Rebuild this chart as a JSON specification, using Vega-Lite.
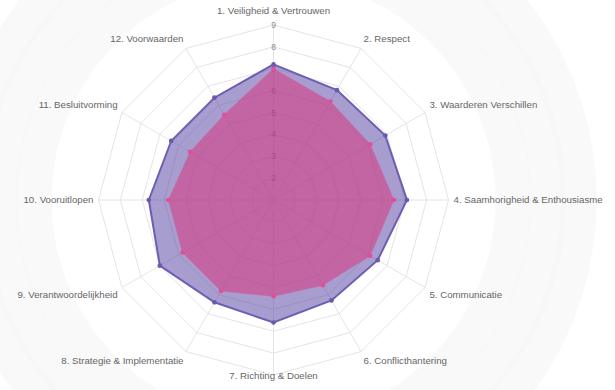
{
  "$schema": "https://vega.github.io/schema/vega-lite/v6.json",
  "width": 615,
  "height": 390,
  "autosize": "none",
  "padding": 0,
  "background": "white",
  "config": {"view": {"stroke": null}, "font": "Liberation Sans"},
  "datasets": {
    "scores": [
      {"axis": 1, "series": "A", "value": 7.2},
      {"axis": 2, "series": "A", "value": 6.8},
      {"axis": 3, "series": "A", "value": 6.9},
      {"axis": 4, "series": "A", "value": 7.1},
      {"axis": 5, "series": "A", "value": 6.5},
      {"axis": 6, "series": "A", "value": 6.3},
      {"axis": 7, "series": "A", "value": 6.6},
      {"axis": 8, "series": "A", "value": 6.4},
      {"axis": 9, "series": "A", "value": 7.0},
      {"axis": 10, "series": "A", "value": 6.7},
      {"axis": 11, "series": "A", "value": 6.4},
      {"axis": 12, "series": "A", "value": 6.4},
      {"axis": 1, "series": "B", "value": 7.0},
      {"axis": 2, "series": "B", "value": 6.2},
      {"axis": 3, "series": "B", "value": 6.1},
      {"axis": 4, "series": "B", "value": 6.5},
      {"axis": 5, "series": "B", "value": 6.1},
      {"axis": 6, "series": "B", "value": 5.5},
      {"axis": 7, "series": "B", "value": 5.4},
      {"axis": 8, "series": "B", "value": 5.8},
      {"axis": 9, "series": "B", "value": 5.8},
      {"axis": 10, "series": "B", "value": 5.8},
      {"axis": 11, "series": "B", "value": 5.4},
      {"axis": 12, "series": "B", "value": 5.5}
    ],
    "axes": [
      {"axis": 1, "label": "1. Veiligheid & Vertrouwen"},
      {"axis": 2, "label": "2. Respect"},
      {"axis": 3, "label": "3. Waarderen Verschillen"},
      {"axis": 4, "label": "4. Saamhorigheid & Enthousiasme"},
      {"axis": 5, "label": "5. Communicatie"},
      {"axis": 6, "label": "6. Conflicthantering"},
      {"axis": 7, "label": "7. Richting & Doelen"},
      {"axis": 8, "label": "8. Strategie & Implementatie"},
      {"axis": 9, "label": "9. Verantwoordelijkheid"},
      {"axis": 10, "label": "10. Vooruitlopen"},
      {"axis": 11, "label": "11. Besluitvorming"},
      {"axis": 12, "label": "12. Voorwaarden"}
    ],
    "levels": [
      {"level": 2, "axes": [1,2,3,4,5,6,7,8,9,10,11,12]},
      {"level": 3, "axes": [1,2,3,4,5,6,7,8,9,10,11,12]},
      {"level": 4, "axes": [1,2,3,4,5,6,7,8,9,10,11,12]},
      {"level": 5, "axes": [1,2,3,4,5,6,7,8,9,10,11,12]},
      {"level": 6, "axes": [1,2,3,4,5,6,7,8,9,10,11,12]},
      {"level": 7, "axes": [1,2,3,4,5,6,7,8,9,10,11,12]},
      {"level": 8, "axes": [1,2,3,4,5,6,7,8,9,10,11,12]},
      {"level": 9, "axes": [1,2,3,4,5,6,7,8,9,10,11,12]}
    ],
    "ticks": [
      {"tick": 2}, {"tick": 3}, {"tick": 4}, {"tick": 5},
      {"tick": 6}, {"tick": 7}, {"tick": 8}, {"tick": 9}
    ],
    "rings": [
      {"ring": "a"}, {"ring": "b"}, {"ring": "c"}
    ]
  },
  "encoding": {
    "x": {"field": "x", "type": "quantitative", "axis": null, "scale": {"domain": [-1.5629, 1.9514], "nice": false, "zero": false}},
    "y": {"field": "y", "type": "quantitative", "axis": null, "scale": {"domain": [-1.0857, 1.1429], "nice": false, "zero": false}}
  },
  "layer": [
    {
      "data": {"name": "rings"},
      "transform": [
        {"calculate": "0", "as": "x"},
        {"calculate": "0", "as": "y"}
      ],
      "mark": {"type": "point", "shape": "circle", "filled": false, "stroke": "#f7f7f7", "strokeWidth": 36, "strokeOpacity": 1},
      "encoding": {
        "size": {"field": "ring", "type": "nominal", "legend": null, "scale": {"domain": ["a", "b", "c"], "range": [230400, 372100, 547600]}}
      }
    },
    {
      "data": {"name": "levels"},
      "transform": [
        {"flatten": ["axes"], "as": ["axis"]},
        {"calculate": "(datum.axis - 1) * PI / 6", "as": "theta"},
        {"calculate": "(datum.level - 1) / 8", "as": "r"},
        {"calculate": "datum.r * sin(datum.theta)", "as": "x"},
        {"calculate": "datum.r * cos(datum.theta)", "as": "y"}
      ],
      "mark": {"type": "line", "interpolate": "linear-closed", "stroke": "#e4e4e4", "strokeWidth": 1},
      "encoding": {
        "detail": {"field": "level", "type": "nominal"},
        "order": {"field": "axis", "type": "quantitative"}
      }
    },
    {
      "data": {"name": "axes"},
      "transform": [
        {"calculate": "(datum.axis - 1) * PI / 6", "as": "theta"},
        {"calculate": "0", "as": "x"},
        {"calculate": "0", "as": "y"},
        {"calculate": "sin(datum.theta)", "as": "x2"},
        {"calculate": "cos(datum.theta)", "as": "y2"}
      ],
      "mark": {"type": "rule", "stroke": "#e4e4e4", "strokeWidth": 1},
      "encoding": {
        "x2": {"field": "x2"},
        "y2": {"field": "y2"}
      }
    },
    {
      "data": {"name": "ticks"},
      "transform": [
        {"calculate": "0", "as": "x"},
        {"calculate": "(datum.tick - 1) / 8", "as": "y"}
      ],
      "mark": {"type": "text", "fontSize": 8.5, "fill": "#8a8a8a", "align": "center", "baseline": "middle"},
      "encoding": {
        "text": {"field": "tick", "type": "quantitative"}
      }
    },
    {
      "data": {"name": "scores"},
      "transform": [
        {"filter": "datum.series == 'A'"},
        {"calculate": "(datum.axis - 1) * PI / 6", "as": "theta"},
        {"calculate": "(datum.value - 1) / 8", "as": "r"},
        {"calculate": "datum.r * sin(datum.theta)", "as": "x"},
        {"calculate": "datum.r * cos(datum.theta)", "as": "y"}
      ],
      "mark": {"type": "line", "interpolate": "linear-closed", "fill": "#503ca0", "fillOpacity": 0.5, "stroke": "#6e5eb2", "strokeWidth": 2},
      "encoding": {"order": {"field": "axis", "type": "quantitative"}}
    },
    {
      "data": {"name": "scores"},
      "transform": [
        {"filter": "datum.series == 'B'"},
        {"calculate": "(datum.axis - 1) * PI / 6", "as": "theta"},
        {"calculate": "(datum.value - 1) / 8", "as": "r"},
        {"calculate": "datum.r * sin(datum.theta)", "as": "x"},
        {"calculate": "datum.r * cos(datum.theta)", "as": "y"}
      ],
      "mark": {"type": "line", "interpolate": "linear-closed", "fill": "#e12d78", "fillOpacity": 0.5, "stroke": "#c9609f", "strokeWidth": 1, "strokeOpacity": 0.6},
      "encoding": {"order": {"field": "axis", "type": "quantitative"}}
    },
    {
      "data": {"name": "scores"},
      "transform": [
        {"calculate": "(datum.axis - 1) * PI / 6", "as": "theta"},
        {"calculate": "(datum.value - 1) / 8", "as": "r"},
        {"calculate": "datum.r * sin(datum.theta)", "as": "x"},
        {"calculate": "datum.r * cos(datum.theta)", "as": "y"}
      ],
      "mark": {"type": "point", "shape": "circle", "filled": true, "size": 22, "opacity": 1},
      "encoding": {
        "color": {"field": "series", "type": "nominal", "legend": null, "scale": {"domain": ["A", "B"], "range": ["#6a5aae", "#e0509a"]}}
      }
    },
    {
      "data": {"name": "axes"},
      "transform": [
        {"filter": "datum.axis == 1"},
        {"calculate": "(datum.axis - 1) * PI / 6", "as": "theta"},
        {"calculate": "1.0286 * sin(datum.theta)", "as": "x"},
        {"calculate": "1.0286 * cos(datum.theta)", "as": "y"}
      ],
      "mark": {"type": "text", "fontSize": 9.7, "color": "#666666", "align": "center", "baseline": "bottom", "dy": -4},
      "encoding": {"text": {"field": "label"}}
    },
    {
      "data": {"name": "axes"},
      "transform": [
        {"filter": "datum.axis == 2 || datum.axis == 3"},
        {"calculate": "(datum.axis - 1) * PI / 6", "as": "theta"},
        {"calculate": "1.0286 * sin(datum.theta)", "as": "x"},
        {"calculate": "1.0286 * cos(datum.theta)", "as": "y"}
      ],
      "mark": {"type": "text", "fontSize": 9.7, "color": "#666666", "align": "left", "baseline": "bottom"},
      "encoding": {"text": {"field": "label"}}
    },
    {
      "data": {"name": "axes"},
      "transform": [
        {"filter": "datum.axis == 4"},
        {"calculate": "(datum.axis - 1) * PI / 6", "as": "theta"},
        {"calculate": "1.0286 * sin(datum.theta)", "as": "x"},
        {"calculate": "1.0286 * cos(datum.theta)", "as": "y"}
      ],
      "mark": {"type": "text", "fontSize": 9.7, "color": "#666666", "align": "left", "baseline": "middle"},
      "encoding": {"text": {"field": "label"}}
    },
    {
      "data": {"name": "axes"},
      "transform": [
        {"filter": "datum.axis == 5 || datum.axis == 6"},
        {"calculate": "(datum.axis - 1) * PI / 6", "as": "theta"},
        {"calculate": "1.0286 * sin(datum.theta)", "as": "x"},
        {"calculate": "1.0286 * cos(datum.theta)", "as": "y"}
      ],
      "mark": {"type": "text", "fontSize": 9.7, "color": "#666666", "align": "left", "baseline": "top"},
      "encoding": {"text": {"field": "label"}}
    },
    {
      "data": {"name": "axes"},
      "transform": [
        {"filter": "datum.axis == 7"},
        {"calculate": "(datum.axis - 1) * PI / 6", "as": "theta"},
        {"calculate": "1.0286 * sin(datum.theta)", "as": "x"},
        {"calculate": "1.0286 * cos(datum.theta)", "as": "y"}
      ],
      "mark": {"type": "text", "fontSize": 9.7, "color": "#666666", "align": "center", "baseline": "top", "dy": -9},
      "encoding": {"text": {"field": "label"}}
    },
    {
      "data": {"name": "axes"},
      "transform": [
        {"filter": "datum.axis == 8 || datum.axis == 9"},
        {"calculate": "(datum.axis - 1) * PI / 6", "as": "theta"},
        {"calculate": "1.0286 * sin(datum.theta)", "as": "x"},
        {"calculate": "1.0286 * cos(datum.theta)", "as": "y"}
      ],
      "mark": {"type": "text", "fontSize": 9.7, "color": "#666666", "align": "right", "baseline": "top"},
      "encoding": {"text": {"field": "label"}}
    },
    {
      "data": {"name": "axes"},
      "transform": [
        {"filter": "datum.axis == 10"},
        {"calculate": "(datum.axis - 1) * PI / 6", "as": "theta"},
        {"calculate": "1.0286 * sin(datum.theta)", "as": "x"},
        {"calculate": "1.0286 * cos(datum.theta)", "as": "y"}
      ],
      "mark": {"type": "text", "fontSize": 9.7, "color": "#666666", "align": "right", "baseline": "middle"},
      "encoding": {"text": {"field": "label"}}
    },
    {
      "data": {"name": "axes"},
      "transform": [
        {"filter": "datum.axis == 11 || datum.axis == 12"},
        {"calculate": "(datum.axis - 1) * PI / 6", "as": "theta"},
        {"calculate": "1.0286 * sin(datum.theta)", "as": "x"},
        {"calculate": "1.0286 * cos(datum.theta)", "as": "y"}
      ],
      "mark": {"type": "text", "fontSize": 9.7, "color": "#666666", "align": "right", "baseline": "bottom"},
      "encoding": {"text": {"field": "label"}}
    }
  ]
}
